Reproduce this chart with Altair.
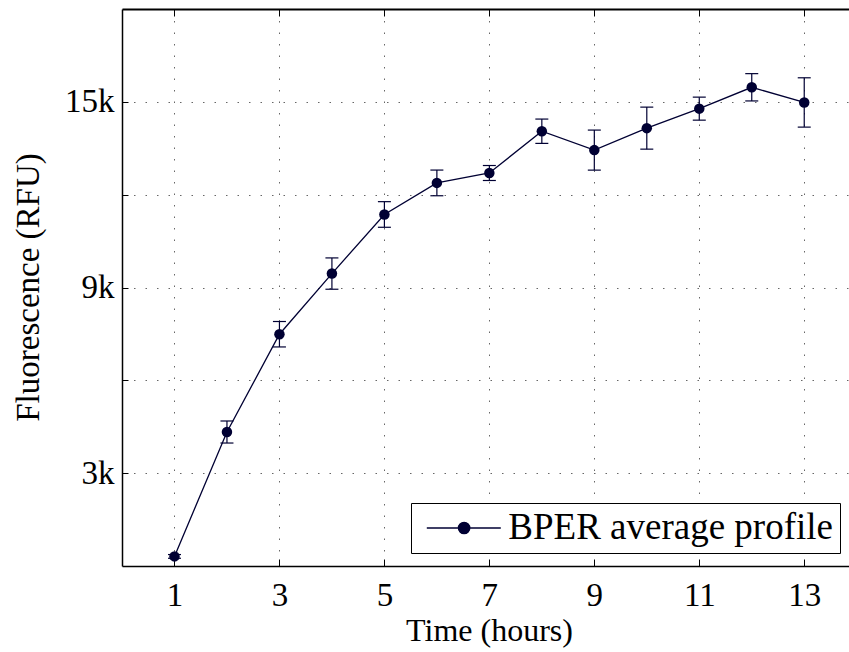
import altair as alt
import pandas as pd

# ---- data ----
hours = [1, 2, 3, 4, 5, 6, 7, 8, 9, 10, 11, 12, 13]
fluorescence = [310, 4330, 7490, 9450, 11360, 12380, 12700, 14050, 13440, 14150, 14780, 15470, 14980]
std_err = [60, 356, 411, 506, 414, 415, 242, 393, 647, 679, 372, 441, 797]
series_name = "BPER average profile"
x_tick_values = [1, 3, 5, 7, 9, 11, 13]
y_tick_values = [3000, 6000, 9000, 12000, 15000]

df = pd.DataFrame({"hours": hours, "fluorescence": fluorescence, "err": std_err})
df["lo"] = df["fluorescence"] - df["err"]
df["hi"] = df["fluorescence"] + df["err"]
df["series"] = series_name

NAVY = "#000033"
FONT = "Liberation Serif"
W, H = 727, 557

xs = alt.Scale(domain=[0, 13.853], nice=False, zero=False)
ys = alt.Scale(domain=[0, 18000], nice=False, zero=False)

base = alt.Chart(df)

grid_style = dict(gridDash=[1.5, 10], gridColor="#666666", gridWidth=1, gridOpacity=1)

line = base.mark_line(color=NAVY, strokeWidth=1.3).encode(
    x=alt.X("hours:Q", scale=xs, axis=alt.Axis(
        orient="bottom", values=x_tick_values, format="d", ticks=False, grid=True, **grid_style,
        domain=True, domainColor="black", domainWidth=1.5,
        labelFont=FONT, labelFontSize=33, labelColor="black", labelPadding=13,
        title="Time (hours)", titleFont=FONT, titleFontSize=32, titleFontWeight="normal",
        titleColor="black", titleX=367, titleY=74, titleBaseline="alphabetic", titleAlign="center")),
    y=alt.Y("fluorescence:Q", scale=ys, axis=alt.Axis(
        orient="left", values=y_tick_values, ticks=False, grid=True, **grid_style,
        labelExpr="datum.value % 6000 == 3000 ? (datum.value / 1000) + 'k' : ''",
        domain=True, domainColor="black", domainWidth=1.5,
        labelFont=FONT, labelFontSize=33, labelColor="black", labelPadding=8,
        title="Fluorescence (RFU)", titleFont=FONT, titleFontSize=33, titleFontWeight="normal",
        titleColor="black", titleX=-84, titleY=278, titleAngle=270,
        titleBaseline="alphabetic", titleAlign="center")),
)

rules = base.mark_rule(color=NAVY, strokeWidth=1.2).encode(
    x=alt.X("hours:Q", scale=xs, axis=alt.Axis(
        orient="top", offset=-H, values=x_tick_values, ticks=True, tickSize=7,
        tickColor="black", tickWidth=1, labels=False, domain=False, grid=False, title=None)),
    y=alt.Y("lo:Q", scale=ys, axis=alt.Axis(
        orient="right", offset=-W, values=y_tick_values, ticks=True, tickSize=6,
        tickColor="black", tickWidth=1, labels=False, domain=False, grid=False, title=None)),
    y2="hi:Q",
)

caps = base.transform_fold(["lo", "hi"], as_=["end", "val"]).mark_tick(
    color=NAVY, thickness=1.2, size=13, orient="horizontal", opacity=1
).encode(
    x=alt.X("hours:Q", scale=xs, axis=alt.Axis(
        orient="bottom", offset=-H, values=x_tick_values, ticks=True, tickSize=7,
        tickColor="black", tickWidth=1, labels=False, domain=True, domainColor="black",
        domainWidth=1.8, grid=False, title=None)),
    y=alt.Y("val:Q", scale=ys, axis=None),
)

PATH = ("M-0.767,0H5.4M2.817,0A0.475,0.475,0,1,1,1.867,0"
        "A0.475,0.475,0,1,1,2.817,0Z")

points = base.mark_point(filled=True, size=110, opacity=1, shape="circle").encode(
    x=alt.X("hours:Q", scale=xs, axis=None),
    y=alt.Y("fluorescence:Q", scale=ys, axis=None),
    color=alt.Color("series:N", scale=alt.Scale(range=[NAVY]), legend=alt.Legend(
        title=None, orient="none", legendX=289, legendY=494,
        symbolType=PATH, symbolSize=576, symbolStrokeWidth=1.3,
        symbolStrokeColor=NAVY, symbolFillColor=NAVY, symbolOpacity=1,
        labelFont=FONT, labelFontSize=37, labelColor="black", labelOffset=53.8,
        labelLimit=1000,
        padding=6.5, strokeColor="black", fillColor="white", cornerRadius=0,
    )),
)

chart = alt.layer(line, rules, caps, points).resolve_axis(
    x="independent", y="independent"
).properties(
    width=W, height=H,
    padding={"left": 122, "top": 9, "right": 0, "bottom": 86},
    autosize=alt.AutoSizeParams(type="none"),
    background="white",
).configure_view(stroke=None)

chart.save("out.html", embed_options={"renderer": "svg", "actions": False})
